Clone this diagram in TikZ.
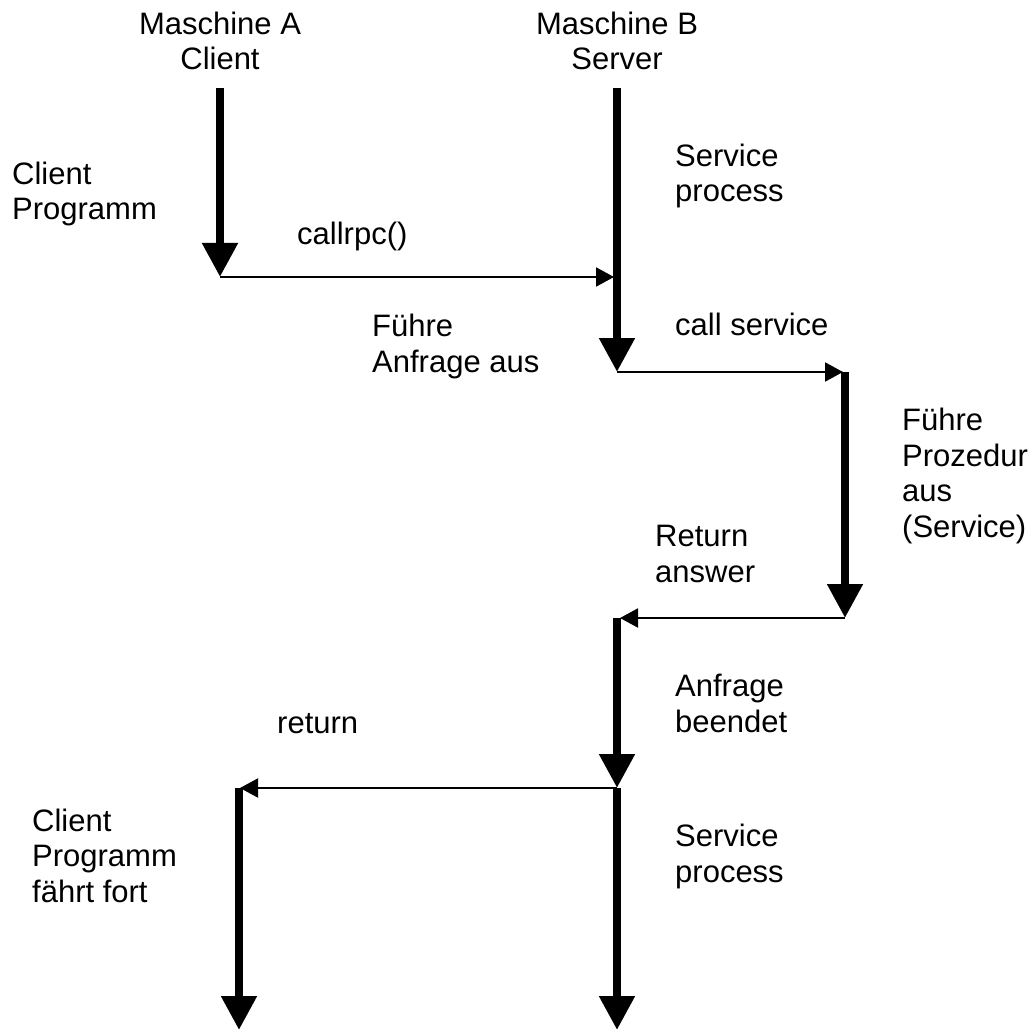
\documentclass[tikz,border=0pt]{standalone}
\usepackage{fontspec}
\setmainfont{Liberation Sans}
\usetikzlibrary{arrows.meta}
\begin{document}
\begin{tikzpicture}[x=1pt,y=-1pt,
  lane/.style={line width=8pt,-{Triangle[length=34pt,width=34pt]}},
  msg/.style={line width=2pt,-{Triangle[length=18pt,width=19pt]}},
  txt/.style={font=\fontsize{31}{35.5}\selectfont,inner sep=0pt},
  lbl/.style={txt,align=left,anchor=base west},
  head/.style={txt,align=center,anchor=base}]
\useasboundingbox[fill=white] (0,0) rectangle (1036,1032);

% lifeline segments (start / end points)
\coordinate (a1s) at (220,88);   \coordinate (a1e) at (220,277);
\coordinate (b1s) at (617,88);   \coordinate (b1e) at (617,372);
\coordinate (c1s) at (845,372);  \coordinate (c1e) at (845,618);
\coordinate (b2s) at (617,618);  \coordinate (b2e) at (617,788);
\coordinate (a2s) at (239,788);  \coordinate (a2e) at (239,1030);
\coordinate (b3s) at (617,788);  \coordinate (b3e) at (617,1030);

% message targets
\coordinate (m1) at (614,277);
\coordinate (m2) at (843,372);
\coordinate (m3) at (620,618);
\coordinate (m4) at (240,788);

% column headings (anchored at the baseline of the last line)
\node[head] (hA) at (220,70) {Maschine A\\Client};
\node[head] (hB) at (617,70) {Maschine B\\Server};

% activity bars
\draw[lane] (a1s) -- (a1e);
\draw[lane] (b1s) -- (b1e);
\draw[lane] (c1s) -- (c1e);
\draw[lane] (b2s) -- (b2e);
\draw[lane] (a2s) -- (a2e);
\draw[lane] (b3s) -- (b3e);

% messages
\draw[msg] (a1e) -- (m1);
\draw[msg] (b1e) -- (m2);
\draw[msg] (c1e) -- (m3);
\draw[msg] (b2e) -- (m4);

% labels (anchored at the baseline of the last line)
\node[lbl] (l1)  at (12,220)  {Client\\Programm};
\node[lbl] (l2)  at (297,245) {callrpc()};
\node[lbl] (l3)  at (675,202) {Service\\process};
\node[lbl] (l4)  at (372,372) {Führe\\Anfrage aus};
\node[lbl] (l5)  at (675,335) {call service};
\node[lbl] (l6)  at (902,537) {Führe\\Prozedur\\aus\\(Service)};
\node[lbl] (l7)  at (655,582) {Return\\answer};
\node[lbl] (l8)  at (675,732) {Anfrage\\beendet};
\node[lbl] (l9)  at (277,733) {return};
\node[lbl] (l10) at (32,902)  {Client\\Programm\\fährt fort};
\node[lbl] (l11) at (675,882) {Service\\process};
\end{tikzpicture}
\end{document}
